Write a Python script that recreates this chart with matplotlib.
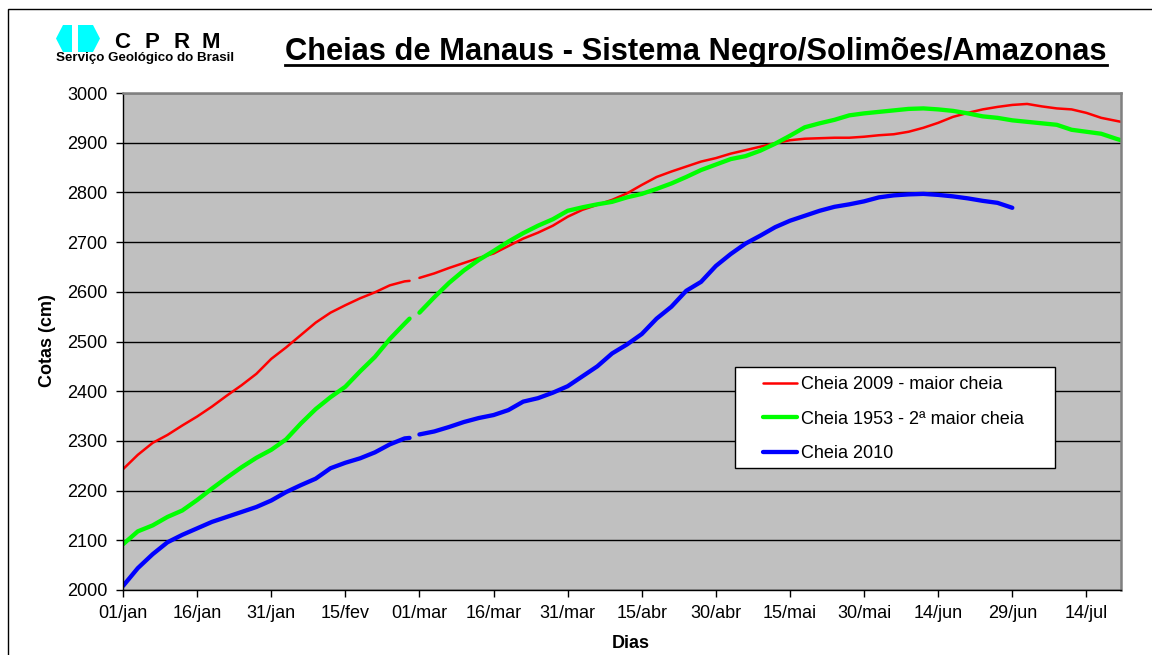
import numpy as np
import matplotlib
matplotlib.use('Agg')
import matplotlib.pyplot as plt
from matplotlib.patches import Polygon, Rectangle
from matplotlib.lines import Line2D

plt.rcParams['font.family'] = ['Liberation Sans', 'DejaVu Sans']

nan = np.nan

# dia do ano (29/fev incluido como categoria vazia -> indice 59)
dias = [0, 3, 6, 9, 12, 15, 18, 21, 24, 27, 30, 33, 36, 39, 42, 45, 48, 51, 54, 57,
        58, 59, 60,
        63, 66, 69, 72, 75, 78, 81, 84, 87, 90, 93, 96, 99, 102, 105, 108, 111, 114,
        117, 120, 123, 126, 129, 132, 135, 138, 141, 144, 147, 150, 153, 156, 159,
        162, 165, 168, 171, 174, 177, 180, 183, 186, 189, 192, 195, 198, 201, 202]

cheia_2009 = [2243, 2272, 2296, 2312, 2331, 2349, 2369, 2391, 2412, 2435, 2465, 2488,
              2513, 2538, 2558, 2573, 2587, 2599, 2613, 2621,
              2622, nan, 2628,
              2637, 2648, 2658, 2668, 2677, 2692, 2707, 2719, 2733, 2751,
              2765, 2775, 2785, 2798, 2815, 2831, 2842, 2852, 2862, 2869,
              2878, 2885, 2892, 2899, 2905, 2908, 2909, 2910, 2910, 2912,
              2915, 2917, 2922, 2930, 2940, 2952, 2960, 2967, 2972, 2976,
              2978, 2973, 2969, 2967, 2960, 2950, 2944, 2942]

cheia_1953 = [2092, 2118, 2130, 2147, 2160, 2181, 2204, 2226, 2247, 2266, 2282, 2303,
              2335, 2364, 2388, 2409, 2440, 2469, 2505, 2536,
              2546, nan, 2558,
              2589, 2618, 2643, 2664, 2682, 2701, 2718, 2733, 2746, 2763,
              2770, 2776, 2781, 2790, 2797, 2807, 2818, 2831, 2845, 2856,
              2867, 2873, 2884, 2898, 2914, 2931, 2939, 2946, 2955, 2959,
              2962, 2965, 2968, 2969, 2967, 2964, 2959, 2953, 2950, 2945,
              2942, 2939, 2936, 2926, 2922, 2918, 2908, 2905]

cheia_2010 = [2008, 2044, 2072, 2096, 2111, 2124, 2137, 2147, 2157, 2167, 2180, 2197,
              2211, 2224, 2245, 2256, 2265, 2277, 2293, 2305,
              2306, nan, 2313,
              2319, 2328, 2338, 2346, 2352, 2362, 2379, 2386, 2397, 2410,
              2430, 2450, 2476, 2494, 2515, 2546, 2570, 2602, 2620, 2652,
              2676, 2697, 2713, 2730, 2743, 2753, 2763, 2771, 2776, 2782,
              2790, 2794, 2796, 2797, 2795, 2792, 2788, 2783, 2779, 2769,
              nan, nan, nan, nan, nan, nan, nan, nan]

tick_dias = [0, 15, 30, 45, 60, 75, 90, 105, 120, 135, 150, 165, 180, 195]
tick_labels = ['01/jan', '16/jan', '31/jan', '15/fev', '01/mar', '16/mar', '31/mar',
               '15/abr', '30/abr', '15/mai', '30/mai', '14/jun', '29/jun', '14/jul']

series = [
    ('Cheia 2009 - maior cheia', cheia_2009, '#FF0000', 1.8),
    ('Cheia 1953 - 2ª maior cheia', cheia_1953, '#00FF00', 3.1),
    ('Cheia 2010', cheia_2010, '#0000FF', 3.1),
]

W, H = 1152, 655

def px(x, y):
    return (x / W, 1 - y / H)

fig = plt.figure(figsize=(W / 100, H / 100), dpi=100)

# moldura externa
fig.patches.append(Rectangle(px(8, 700), 1.2, (700 - 9) / H, transform=fig.transFigure,
                             fill=False, edgecolor='black', lw=1))

ax = fig.add_axes([123 / W, 1 - 590 / H, 998 / W, 497 / H])
ax.set_facecolor('#C0C0C0')

for label, vals, color, lw in series:
    ax.plot(dias, vals, color=color, lw=lw, label=label, solid_capstyle='round')

ax.set_xlim(0, 202)
ax.set_ylim(2000, 3000)
ax.set_yticks(np.arange(2000, 3001, 100))
ax.set_xticks(tick_dias)
ax.set_xticklabels(tick_labels)
ax.yaxis.grid(True, color='black', lw=1)
ax.set_axisbelow(True)
ax.tick_params(axis='both', direction='out', length=5, width=1, labelsize=13, colors='black')
ax.tick_params(axis='y', pad=6)
ax.tick_params(axis='x', pad=6)
for s in ['left', 'bottom']:
    ax.spines[s].set_color('black')
    ax.spines[s].set_linewidth(1)
for s in ['top', 'right']:
    ax.spines[s].set_color('#808080')
    ax.spines[s].set_linewidth(1.8)

fig.text(*px(48, 341), 'Cotas (cm)', rotation=90, fontsize=13, fontweight='bold',
         ha='center', va='center')
fig.text(*px(631, 643), 'Dias', fontsize=13, fontweight='bold', ha='center', va='center')

# caixa da legenda
ax.add_patch(Rectangle(((735 - 123) / 998, (590 - 468) / 497), 320 / 998, 101 / 497,
                       transform=ax.transAxes, facecolor='white', edgecolor='black',
                       lw=1, zorder=4))
leg = ax.legend(loc='upper left', bbox_to_anchor=((763 - 123) / 998, (590 - 376) / 497),
                frameon=False, fontsize=13, borderpad=0, borderaxespad=0,
                handlelength=1.9, handletextpad=0.2, labelspacing=0.97)
leg.set_zorder(5)

# titulo sublinhado
title = fig.text(*px(696, 60), 'Cheias de Manaus - Sistema Negro/Solimões/Amazonas',
                 fontsize=22.2, fontweight='bold', ha='center', va='baseline')
fig.canvas.draw()
bb = title.get_window_extent(fig.canvas.get_renderer())
uy = 1 - 64.7 / H
fig.lines.append(Line2D([bb.x0 / W, bb.x1 / W], [uy, uy], transform=fig.transFigure,
                        color='black', lw=2))

# logo CPRM
cyan = '#00FFFF'
fig.patches.append(Polygon([px(56, 38.5), px(63, 25), px(72, 25), px(72, 52), px(63, 52)],
                           closed=True, transform=fig.transFigure, facecolor=cyan,
                           edgecolor='none'))
fig.patches.append(Polygon([px(78, 25), px(93, 25), px(100, 38.5), px(93, 52), px(78, 52)],
                           closed=True, transform=fig.transFigure, facecolor=cyan,
                           edgecolor='none'))
for letra, cx in zip('CPRM', [122.5, 151.5, 181.5, 210.5]):
    fig.text(*px(cx, 48), letra, fontsize=16, fontweight='bold', ha='center',
             va='baseline')
fig.text(*px(56, 61), 'Serviço Geológico do Brasil', fontsize=9.6, fontweight='bold',
         ha='left', va='baseline')

fig.savefig('out.png', dpi=100)
